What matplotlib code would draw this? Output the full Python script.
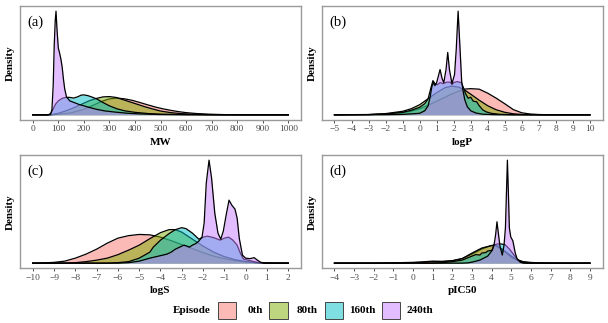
import matplotlib.pyplot as plt
from matplotlib.patches import Rectangle
import numpy as np

plt.rcParams['font.family'] = ['Liberation Serif', 'DejaVu Serif']

# episodes and ggplot hue colours
episodes = ['0th', '80th', '160th', '240th']
ep_colors = ['#F8766D', '#7CAE00', '#00BFC4', '#C77CFF']

# density curves, (x, relative density)
mw_0th = [(0, 0), (60, 0), (100, 0.5), (150, 2), (200, 5.5), (240, 10), (270, 13.5), (300, 16),
          (330, 16.8), (360, 16), (390, 14.5), (420, 12.3), (450, 10), (480, 7.8), (510, 6),
          (540, 4.5), (570, 3.2), (600, 2.2), (640, 1.3), (690, 0.6), (750, 0.2), (850, 0.05), (1000, 0)]
mw_80th = [(0, 0), (70, 0), (100, 1.5), (130, 4), (160, 7), (190, 10.5), (220, 14), (250, 16.5),
           (275, 18), (300, 18.3), (325, 17.5), (350, 15.5), (380, 13), (410, 10.5), (440, 8),
           (470, 5.8), (500, 3.8), (540, 2.2), (580, 1.2), (620, 0.7), (680, 0.3), (750, 0.1),
           (850, 0), (1000, 0)]
mw_160th = [(0, 0), (60, 0), (70, 1), (80, 6), (90, 11), (100, 14), (115, 16.5), (130, 17.5),
            (145, 17.5), (160, 16.8), (175, 18), (190, 19.8), (200, 20), (215, 19.3), (230, 18),
            (250, 16), (270, 13), (300, 9), (330, 6), (360, 4), (400, 2.5), (450, 1.3), (500, 0.6),
            (600, 0.2), (700, 0), (1000, 0)]
mw_240th = [(0, 0), (60, 0), (70, 1), (75, 5), (80, 30), (84, 70), (88, 95), (91, 104), (95, 85),
            (100, 67), (105, 62), (110, 56), (115, 48), (120, 36), (125, 26), (132, 18), (145, 14),
            (160, 12.5), (180, 10.5), (200, 9), (220, 7.5), (250, 5.5), (280, 4), (320, 2.8),
            (370, 1.6), (420, 0.9), (500, 0.3), (600, 0.1), (700, 0), (1000, 0)]

logp_0th = [(-5, 0), (-3, 0.2), (-2, 0.7), (-1, 2), (-0.5, 3.5), (0, 6), (0.5, 9.5), (1, 13.5),
            (1.5, 17.5), (2, 21.5), (2.6, 25.5), (3, 26), (3.5, 25.5), (4, 21.5), (4.5, 16.5),
            (5, 11), (5.5, 5.2), (6, 2), (6.5, 0.8), (7, 0.3), (7.5, 0.1), (8.5, 0), (10, 0)]
logp_80th = [(-5, 0), (-3, 0.3), (-2, 1.2), (-1, 3.5), (-0.5, 6), (0, 10), (0.5, 16), (1, 22),
             (1.5, 27), (1.9, 28.5), (2.3, 27.5), (2.7, 24), (3, 20.5), (3.5, 14.5), (4, 9),
             (4.5, 5), (5, 2.5), (5.5, 1), (6, 0.4), (7, 0), (10, 0)]
logp_160th = [(-5, 0), (-3, 0.2), (-2, 0.8), (-1, 2.5), (-0.5, 4.5), (0, 7.5), (0.3, 11), (0.5, 16),
              (0.65, 26), (0.78, 34), (0.9, 31), (1.05, 30), (1.2, 32), (1.4, 31), (1.6, 32.5),
              (1.8, 32.5), (1.9, 30), (2.0, 32), (2.2, 33), (2.45, 32), (2.55, 28), (2.7, 21),
              (2.85, 16.5), (3.0, 17.5), (3.15, 13.5), (3.35, 13), (3.5, 9), (3.7, 5), (3.9, 3),
              (4.2, 1.5), (4.7, 0.5), (5.5, 0.1), (7, 0), (10, 0)]
logp_240th = [(-5, 0), (-2, 0.1), (-1, 0.4), (0, 1.5), (0.3, 4), (0.5, 9), (0.62, 18), (0.72, 28),
              (0.8, 32), (0.9, 29), (1.0, 32), (1.2, 45), (1.32, 36), (1.42, 32), (1.55, 45),
              (1.65, 62), (1.75, 45), (1.9, 31), (2.05, 40), (2.15, 65), (2.26, 103), (2.36, 70),
              (2.47, 33), (2.55, 24), (2.65, 15), (2.8, 8), (3.0, 4), (3.3, 1.8), (3.7, 0.6),
              (4.5, 0.1), (6, 0), (10, 0)]

logs_0th = [(-10, 0), (-9.8, 0), (-9.5, 0.2), (-9, 0.8), (-8.5, 2), (-8, 5), (-7.5, 9), (-7, 14),
            (-6.5, 20), (-6, 25), (-5.5, 27.5), (-5, 28.7), (-4.5, 28.3), (-4, 26), (-3.5, 22.5),
            (-3, 18.5), (-2.5, 14.5), (-2, 10.5), (-1.5, 7), (-1, 4.5), (-0.5, 2.5), (0, 1.2),
            (0.5, 0.4), (1, 0.1), (2, 0)]
logs_80th = [(-10, 0), (-8.5, 0), (-8, 0.5), (-7.5, 1.5), (-7, 3), (-6.5, 5), (-6, 8.5), (-5.5, 13),
             (-5, 18), (-4.5, 24.5), (-4, 30.5), (-3.6, 33.5), (-3.3, 33.5), (-3, 31), (-2.5, 24),
             (-2, 17), (-1.5, 11), (-1, 6.5), (-0.5, 3.5), (0, 1.5), (0.5, 0.5), (1, 0.1), (2, 0)]
logs_160th = [(-10, 0), (-6.5, 0), (-6, 0.5), (-5.5, 1.5), (-5, 5), (-4.5, 11), (-4.34, 16), (-4, 23),
              (-3.6, 29.5), (-3.3, 33.5), (-3.0, 35.5), (-2.8, 34.5), (-2.5, 30), (-2.2, 24),
              (-2.0, 26), (-1.8, 27), (-1.5, 25.5), (-1.2, 23), (-1.0, 25), (-0.8, 26), (-0.6, 23),
              (-0.4, 18), (-0.25, 10), (-0.1, 4), (0.2, 2.5), (0.5, 1), (0.8, 0.2), (1.2, 0), (2, 0)]
logs_240th = [(-10, 0), (-6, 0), (-5.5, 0.5), (-5, 2), (-4.5, 5), (-4, 7.5), (-3.7, 9), (-3.5, 11),
              (-3.3, 14), (-3.1, 16), (-2.9, 18), (-2.75, 17), (-2.65, 16), (-2.5, 18), (-2.35, 19.5),
              (-2.2, 22), (-2.05, 26), (-1.95, 40), (-1.85, 80), (-1.72, 103), (-1.6, 85), (-1.45, 50),
              (-1.3, 30), (-1.17, 24), (-1.05, 32), (-0.9, 50), (-0.78, 63), (-0.65, 58), (-0.5, 54),
              (-0.4, 45), (-0.3, 25), (-0.15, 8), (0, 5), (0.2, 4.5), (0.4, 5.5), (0.55, 3),
              (0.7, 1), (0.85, 0), (2, 0)]

pic50_0th = [(-4, 0), (-2, 0), (-1, 0.3), (0, 0.8), (0.5, 1.3), (1, 2), (1.5, 1.8), (2, 2.5),
             (2.5, 4.5), (3, 9), (3.5, 14), (4, 17.5), (4.3, 17), (4.6, 13), (5, 7), (5.3, 3.5),
             (5.6, 1.5), (6, 0.7), (6.5, 0.2), (7.5, 0), (9, 0)]
pic50_80th = [(-4, 0), (-1, 0), (0, 0.5), (0.5, 0.8), (1, 1.5), (1.5, 1.5), (2, 2.3), (2.5, 4.5),
              (3, 10), (3.5, 15), (3.9, 17), (4.15, 18), (4.4, 15), (4.7, 11), (5, 6), (5.3, 3),
              (5.6, 1), (6, 0.3), (7, 0), (9, 0)]
pic50_160th = [(-4, 0), (1, 0), (1.5, 0.5), (2, 1.5), (2.5, 3), (3, 7), (3.2, 8.5), (3.4, 8),
               (3.5, 10), (3.7, 10.5), (3.8, 12), (3.95, 12.5), (4.05, 13), (4.1, 18), (4.3, 19),
               (4.5, 19), (4.7, 18), (4.9, 14), (5.1, 9), (5.3, 4), (5.5, 1), (5.8, 0), (9, 0)]
pic50_240th = [(-4, 0), (2.5, 0), (2.8, 0.3), (3, 1), (3.4, 3), (3.8, 7), (4.0, 12), (4.12, 18),
               (4.2, 28), (4.27, 41), (4.35, 28), (4.42, 17), (4.54, 8), (4.63, 18), (4.7, 35),
               (4.76, 75), (4.8, 102), (4.85, 70), (4.9, 35), (4.97, 26), (5.08, 22), (5.2, 10),
               (5.3, 4), (5.45, 1), (5.6, 0), (9, 0)]

panels = [
    ('(a)', 'MW', [mw_0th, mw_80th, mw_160th, mw_240th], np.arange(0, 1001, 100)),
    ('(b)', 'logP', [logp_0th, logp_80th, logp_160th, logp_240th], np.arange(-5, 11)),
    ('(c)', 'logS', [logs_0th, logs_80th, logs_160th, logs_240th], np.arange(-10, 3)),
    ('(d)', 'pIC50', [pic50_0th, pic50_80th, pic50_160th, pic50_240th], np.arange(-4, 10)),
]

W, H = 608, 323
fig = plt.figure(figsize=(W / 100, H / 100), dpi=100)

# panel boxes in pixels: left, right, top, bottom
boxes = [(20, 301, 6, 120), (321.7, 602.7, 6, 120),
         (20, 301, 155, 268.3), (321.7, 602.7, 155, 268.3)]

for (tag, xlab, curves, ticks), (l, r, t, b) in zip(panels, boxes):
    ax = fig.add_axes([l / W, (H - b) / H, (r - l) / W, (b - t) / H])
    ymax = 0
    for i, (cur, col) in enumerate(zip(curves, ep_colors)):
        arr = np.array(cur)
        ax.fill_between(arr[:, 0], 0, arr[:, 1], color=col, alpha=0.5, lw=0, zorder=2 + 2 * i)
        ax.plot(arr[:, 0], arr[:, 1], color='black', lw=0.9, zorder=3 + 2 * i)
        ymax = max(ymax, arr[:, 1].max())
    span = ticks[-1] - ticks[0]
    ax.set_xlim(ticks[0] - 0.05 * span, ticks[-1] + 0.05 * span)
    ax.set_ylim(-0.05 * ymax, 1.05 * ymax)
    ax.set_xticks(ticks)
    ax.set_yticks([])
    ax.tick_params(axis='x', length=2.4, width=0.6, pad=1.5, color='#333333',
                   labelsize=6.8, labelcolor='#4D4D4D')
    for sp in ax.spines.values():
        sp.set_color('#9a9a9a')
        sp.set_linewidth(1.0)
    ax.set_xlabel(xlab, fontsize=8, fontweight='bold')
    ax.xaxis.set_label_coords(0.5, -0.155)
    ax.set_ylabel('Density', fontsize=8, fontweight='bold')
    ax.yaxis.set_label_coords(-0.018, 0.5)
    ax.text(0.026, 0.855, tag, transform=ax.transAxes, fontsize=10.5, va='center', ha='left')

# legend drawn at the bottom
ly = H - 310.7
fig.text(172.7 / W, ly / H, 'Episode', fontsize=8, fontweight='bold', va='center', ha='left')
key_x = [217.7, 269.3, 325, 381.7]
text_x = [247.3, 296.7, 349, 406.7]
for kx, tx, lab, col in zip(key_x, text_x, episodes, ep_colors):
    fig.add_artist(Rectangle((kx / W, (ly - 8.3) / H), 18.3 / W, 16.7 / H, transform=fig.transFigure,
                             facecolor=col, alpha=0.5, edgecolor='none'))
    fig.add_artist(Rectangle((kx / W, (ly - 8.3) / H), 18.3 / W, 16.7 / H, transform=fig.transFigure,
                             facecolor='none', edgecolor='#444444', lw=0.7))
    fig.text(tx / W, ly / H, lab, fontsize=8, fontweight='bold', va='center', ha='left')

fig.savefig('out.png', dpi=100)
